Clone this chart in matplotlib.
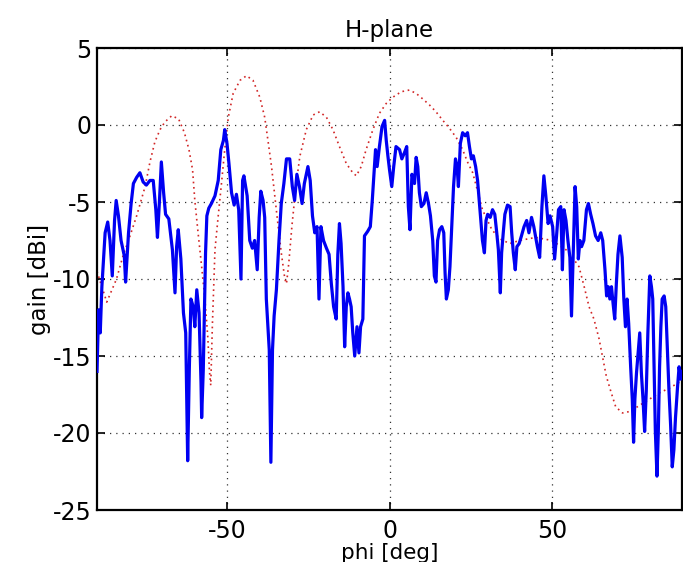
import matplotlib
matplotlib.use("Agg")
import matplotlib.pyplot as plt

# measured gain (blue)
phi_meas = [-90.0, -89.5, -89.0, -88.5, -87.5, -86.7, -86.0, -85.3, -84.6, -84.1, -83.4, -82.6, -81.6, -81.2,
            -80.3, -79.5, -78.8, -77.8, -76.8, -75.8, -74.8, -73.7, -72.7, -71.9, -71.4, -70.8, -70.2, -69.5,
            -68.9, -67.9, -66.8, -66.0, -65.5, -65.0, -64.2, -63.4, -62.7, -62.4, -62.1, -61.6, -61.1, -60.4,
            -59.9, -59.3, -58.6, -58.0, -57.8, -57.3, -57.0, -56.6, -56.2, -55.6, -54.8, -53.7, -52.7, -51.9,
            -51.1, -50.7, -50.0, -49.4, -48.6, -47.8, -47.1, -46.4, -45.7, -45.2, -44.8, -43.8, -43.0, -42.2,
            -41.5, -40.7, -40.1, -39.6, -38.9, -38.4, -37.9, -37.0, -36.5, -36.0, -35.5, -34.8, -34.0, -33.3,
            -32.5, -31.7, -30.7, -29.9, -29.2, -28.5, -27.7, -26.9, -26.2, -25.1, -24.4, -23.7, -23.0, -22.3,
            -21.7, -21.1, -20.3, -19.4, -18.6, -17.9, -17.2, -16.4, -15.9, -15.4, -14.9, -14.3, -13.8, -13.3,
            -12.8, -12.3, -11.8, -11.3, -10.7, -10.0, -9.4, -8.9, -8.2, -7.7, -6.7, -5.9, -5.3, -4.8, -4.3,
            -3.8, -3.1, -2.3, -1.5, -1.0, -0.5, 0.0, 0.7, 1.3, 2.0, 3.1, 3.8, 4.6, 5.3, 5.8, 6.3, 6.9, 7.7,
            8.2, 8.7, 9.2, 9.8, 10.6, 11.3, 12.0, 12.6, 13.3, 13.8, 14.3, 14.8, 15.4, 16.1, 16.7, 17.1, 17.5,
            18.1, 18.6, 19.2, 19.7, 20.3, 20.8, 21.2, 21.8, 22.5, 23.3, 24.0, 24.6, 25.2, 25.8, 26.5, 27.1,
            27.6, 28.1, 28.6, 29.2, 29.7, 30.2, 31.0, 31.7, 32.4, 33.0, 33.5, 34.1, 34.5, 35.0, 35.5, 36.3,
            37.1, 37.6, 38.1, 38.7, 39.2, 39.9, 40.6, 41.4, 42.2, 42.9, 43.7, 44.4, 45.5, 46.2, 46.9, 47.5,
            48.1, 48.8, 49.4, 50.2, 50.8, 51.4, 52.0, 52.7, 53.2, 53.7, 54.3, 54.9, 55.5, 56.0, 56.5, 57.1,
            57.6, 58.1, 58.6, 59.1, 59.8, 60.6, 61.2, 61.9, 62.6, 63.4, 64.2, 65.0, 65.6, 66.3, 66.8, 67.3,
            67.8, 68.3, 68.8, 69.3, 69.8, 70.3, 70.9, 71.6, 72.1, 72.6, 73.1, 73.6, 74.2, 74.7, 75.1, 75.5,
            76.0, 76.5, 77.0, 77.5, 78.0, 78.5, 79.0, 79.5, 80.1, 80.6, 81.0, 81.4, 81.8, 82.3, 82.7, 83.1,
            83.5, 83.9, 84.5, 85.0, 85.5, 86.0, 86.5, 87.0, 87.5, 88.0, 88.6, 89.1, 89.6, 90.0]
gain_meas = [-16.0, -12.0, -13.5, -10.5, -7.0, -6.3, -7.5, -9.8, -6.2, -4.9, -5.9, -7.5, -8.5, -10.2,
             -7.0, -5.1, -3.8, -3.4, -3.1, -3.7, -3.9, -3.6, -3.6, -5.5, -7.3, -5.0, -2.4, -4.4,
             -5.8, -6.1, -8.1, -10.9, -7.9, -6.8, -8.7, -12.2, -13.5, -17.8, -21.8, -15.9, -11.3, -11.8,
             -13.1, -10.7, -12.2, -16.7, -19.0, -15.9, -12.6, -8.3, -5.9, -5.4, -5.1, -4.6, -3.6, -1.6,
             -1.0, -0.3, -1.2, -2.5, -4.4, -5.2, -4.5, -5.5, -10.0, -3.6, -3.3, -4.6, -7.5, -8.0,
             -7.5, -9.4, -6.0, -4.3, -4.9, -6.0, -11.3, -14.6, -21.9, -14.6, -12.4, -10.7, -7.5, -5.1,
             -3.8, -2.2, -2.2, -4.0, -4.9, -3.2, -4.0, -5.1, -3.8, -2.7, -3.6, -5.9, -7.0, -6.6,
             -11.3, -6.6, -7.5, -8.0, -8.4, -10.3, -11.8, -12.6, -8.4, -6.4, -7.7, -10.5, -14.4, -11.8,
             -10.9, -11.3, -11.8, -13.5, -15.0, -13.1, -14.8, -13.1, -12.6, -7.2, -6.9, -6.6, -4.9, -3.2, -1.6,
             -2.7, -1.4, -0.1, 0.3, -1.0, -2.0, -2.9, -4.0, -2.7, -1.4, -1.6, -2.2, -1.8, -1.4, -5.3, -6.8, -3.2, -3.8,
             -2.1, -2.7, -4.4, -5.3, -5.1, -4.4, -5.1, -5.9, -7.5, -9.8, -10.2, -7.5, -6.8, -6.6, -7.0, -9.6, -11.3,
             -10.7, -9.2, -6.4, -4.0, -2.2, -2.7, -4.0, -1.2, -0.5, -0.7, -0.5, -1.4, -2.2, -2.0, -2.7, -3.6,
             -4.9, -6.2, -7.5, -8.3, -6.2, -5.8, -6.0, -5.5, -5.8, -7.0, -8.1, -10.9, -8.3, -7.0, -5.8, -5.2,
             -5.3, -7.0, -8.3, -9.4, -7.9, -7.7, -7.2, -6.6, -6.2, -7.0, -6.0, -6.6, -7.9, -8.6, -5.3, -3.3,
             -4.6, -6.4, -5.9, -6.6, -8.7, -7.2, -5.5, -5.3, -9.4, -5.5, -6.2, -7.5, -8.6, -12.4, -8.6, -4.0,
             -5.3, -8.7, -7.5, -7.9, -7.5, -5.5, -5.1, -5.8, -6.4, -7.2, -7.5, -7.0, -7.5, -9.4, -11.1, -10.5,
             -11.3, -10.5, -11.6, -12.6, -10.3, -8.4, -7.2, -8.6, -11.3, -13.1, -11.3, -12.9, -15.7, -17.8, -20.6, -17.8,
             -16.1, -14.8, -13.5, -16.1, -17.8, -19.9, -17.3, -13.5, -9.8, -10.5, -11.3, -15.7, -19.9, -22.8, -20.0, -15.7,
             -13.1, -11.3, -11.1, -11.8, -14.6, -17.3, -19.5, -22.2, -21.1, -19.0, -17.1, -15.7, -16.5, -16.0]

# simulated gain (red dotted)
phi_sim = [-90.0, -87.0, -84.0, -82.0, -80.0, -77.8, -75.2, -73.7, -72.2, -70.6, -69.1, -67.0, -64.9, -63.1,
           -61.7, -60.6, -59.9, -58.9, -57.8, -56.8, -55.9, -55.4, -55.0, -54.5, -53.7, -52.7, -51.7, -50.7,
           -49.6, -48.1, -46.0, -44.0, -42.0, -39.9, -38.4, -37.4, -36.3, -35.3, -34.3, -33.3, -32.2, -31.7,
           -31.0, -30.0, -28.8, -27.6, -25.6, -23.5, -21.5, -19.4, -17.4, -15.4, -13.3, -11.3, -10.2, -8.7,
           -7.2, -5.1, -3.1, -1.0, 1.0, 3.6, 6.1, 8.2, 10.2, 12.3, 14.3, 16.4, 18.4, 20.5, 22.5, 24.0, 25.6,
           27.0, 28.6, 31.5, 34.0, 37.0, 40.0, 45.0, 50.0, 55.0, 58.3, 59.9, 61.4, 62.9, 64.5, 65.5, 66.7,
           68.1, 69.6, 71.7, 74.0, 77.0, 80.0, 83.0, 86.0, 90.0]
gain_sim = [-9.5, -11.5, -10.0, -8.5, -7.3, -5.9, -4.0, -2.4, -1.1, -0.3, 0.2, 0.6, 0.4, -0.5,
            -1.6, -2.9, -4.9, -7.0, -9.2, -11.3, -13.8, -16.0, -16.9, -13.0, -8.1, -5.9, -3.8, -1.6,
            0.5, 2.05, 2.9, 3.2, 2.9, 1.8, 0.5, -1.0, -2.7, -4.6, -6.5, -8.3, -10.0, -10.3,
            -9.0, -6.5, -4.0, -2.05, -0.3, 0.65, 0.86, 0.5, -0.3, -1.4, -2.5, -3.1, -3.3, -2.7,
            -1.6, -0.3, 0.76, 1.4, 1.8, 2.16, 2.27, 2.05, 1.7, 1.3, 0.86, 0.3, -0.2, -0.8, -1.6, -2.4, -3.1,
            -4.2, -5.5, -6.8, -7.4, -7.7, -7.5, -7.3, -7.5, -8.2, -9.2, -10.5, -11.8, -12.6, -13.9, -15.0, -16.3,
            -17.3, -18.3, -18.7, -18.6, -18.2, -17.8, -17.4, -17.1, -16.6]

x_ticks = [-50, 0, 50]
y_ticks = [-25, -20, -15, -10, -5, 0, 5]

plt.rcParams['font.family'] = ['DejaVu Sans']
plt.rcParams['axes.unicode_minus'] = False

fig = plt.figure(figsize=(6.83, 5.62), dpi=100)
ax = fig.add_axes([97/683, 52/562, 585/683, 462/562])

ax.plot(phi_sim, gain_sim, color=(0.82, 0.15, 0.15), linestyle=(0, (1, 2.2)), linewidth=1.2, zorder=2)
ax.plot(phi_meas, gain_meas, color=(0.0, 0.0, 0.95), linewidth=2.3, zorder=3)

ax.set_xlim(-90, 90)
ax.set_ylim(-25, 5)
ax.set_xticks(x_ticks)
ax.set_yticks(y_ticks)
ax.grid(True, color='#333333', linestyle=(0, (1, 4)), linewidth=0.9)
ax.tick_params(direction='in', length=6, width=1.2, top=True, right=True, labelsize=17)
ax.tick_params(axis='y', pad=4)
ax.tick_params(axis='x', pad=6.5)
for s in ax.spines.values():
    s.set_linewidth(1.6)

ax.set_title('H-plane', fontsize=16.5, pad=8)
ax.set_xlabel('phi [deg]', fontsize=15.5, labelpad=0)
ax.set_ylabel('gain [dBi]', fontsize=16.5, labelpad=1)

fig.savefig('out.png', dpi=100)
